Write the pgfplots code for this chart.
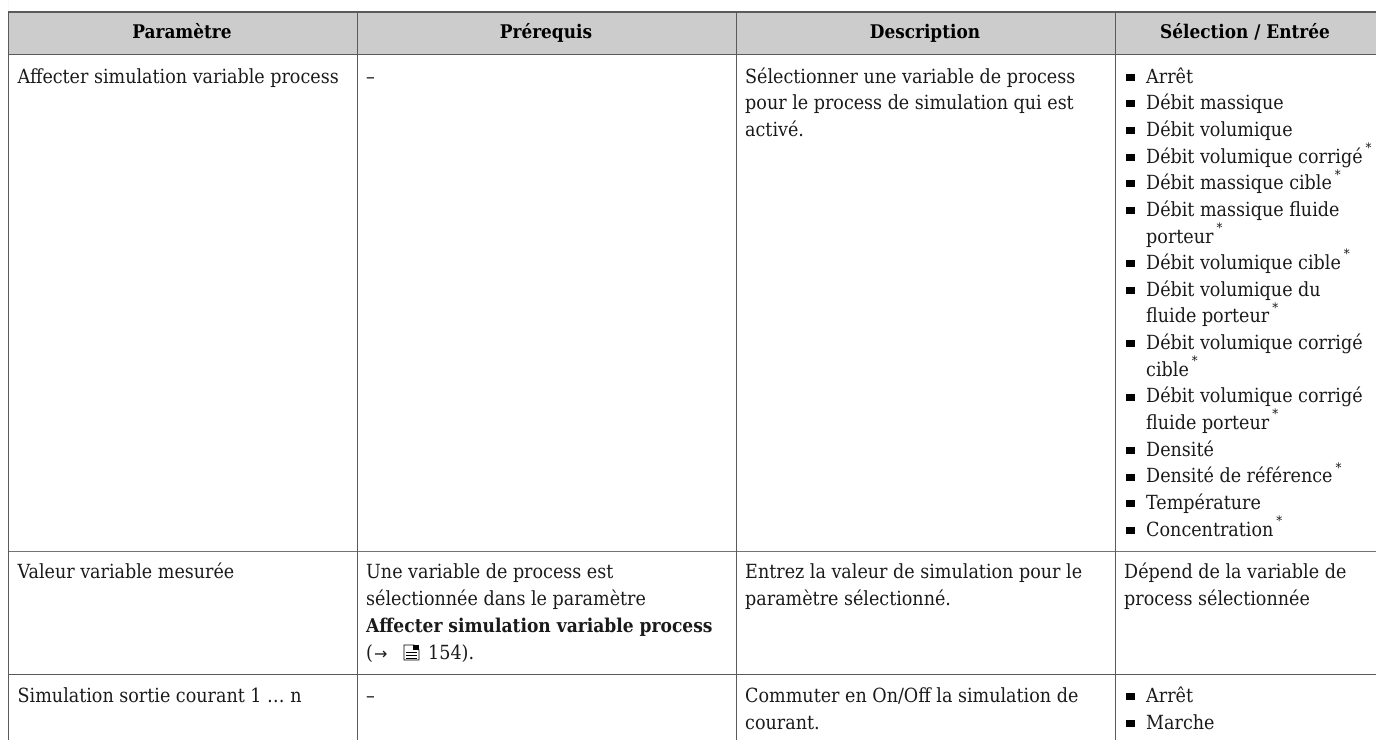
\documentclass[border=0pt]{standalone}
\usepackage{fontspec}
\usepackage{pgfplots}
\pgfplotsset{compat=1.18}
\setmainfont{DejaVu Serif Condensed}
\newfontfamily\arrowfont{DejaVu Sans}
\definecolor{hdr}{HTML}{CCCCCC}
\definecolor{rule}{HTML}{5A5A5A}
\definecolor{txt}{HTML}{1A1A1A}
\newcommand\TX[3]{\node[anchor=base west,inner sep=0pt,text=txt] at (axis cs:#1,#2) {#3};}
\newcommand\HD[3]{\node[anchor=base,inner sep=0pt,text=black] at (axis cs:#1,#2) {\fontsize{18.8}{22}\selectfont\bfseries #3};}
\newcommand\AS{\hspace{3pt}\raisebox{10.5pt}{\fontsize{13}{13}\selectfont *}}
\begin{document}
\begin{tikzpicture}[x=1pt,y=1pt]
\useasboundingbox (0,0) rectangle (1376,740);
\fontsize{19.5}{23}\selectfont
\begin{axis}[at={(0,0)},anchor=south west,scale only axis,width=1376pt,height=740pt,
  xmin=0,xmax=1376,ymin=0,ymax=740,y dir=reverse,hide axis,clip=true]
\addplot[draw=none,fill=hdr] coordinates {(8.5,12) (1376,12) (1376,54.5) (8.5,54.5)} \closedcycle;
% horizontal rules
\addplot[rule,line width=1.3pt] coordinates {(8,12) (1376,12)};
\addplot[rule,line width=1.3pt] coordinates {(8,54.5) (1376,54.5)};
\addplot[rule!85!white,line width=1.5pt] coordinates {(8,551.5) (1376,551.5)};
\addplot[rule,line width=1.2pt] coordinates {(8,674.7) (1376,674.7)};
% vertical rules
\addplot[rule,line width=1pt] coordinates {(8.5,12) (8.5,740)};
\addplot[rule,line width=1pt] coordinates {(357,12) (357,740)};
\addplot[rule,line width=1pt] coordinates {(736,12) (736,740)};
\addplot[rule,line width=1pt] coordinates {(1115,12) (1115,740)};
% bullets
\addplot[only marks,mark=square*,mark size=3pt,mark options={black,xscale=1.3}] coordinates {
(1130,77) (1130,103.6) (1130,130.3) (1130,157) (1130,183.6) (1130,210.2)
(1130,263) (1130,290) (1130,343) (1130,396.7) (1130,450) (1130,476.7) (1130,503) (1130,530)
(1130,696) (1130,723)};
\HD{182}{38}{Paramètre}
\HD{546}{38}{Prérequis}
\HD{925}{38}{Description}
\HD{1245}{38}{Sélection / Entrée}
\TX{17.5}{83}{Affecter simulation variable process}
\TX{366}{83}{–}
\TX{745}{83}{Sélectionner une variable de process}
\TX{745}{109.6}{pour le process de simulation qui est}
\TX{745}{136.3}{activé.}
\TX{1146}{83}{Arrêt}
\TX{1146}{109.6}{Débit massique}
\TX{1146}{136.3}{Débit volumique}
\TX{1146}{163}{Débit volumique corrigé\AS}
\TX{1146}{189.6}{Débit massique cible\AS}
\TX{1146}{216.2}{Débit massique fluide}
\TX{1146}{243}{porteur\AS}
\TX{1146}{269}{Débit volumique cible\AS}
\TX{1146}{296}{Débit volumique du}
\TX{1146}{322.5}{fluide porteur\AS}
\TX{1146}{349}{Débit volumique corrigé}
\TX{1146}{376}{cible\AS}
\TX{1146}{402.7}{Débit volumique corrigé}
\TX{1146}{429}{fluide porteur\AS}
\TX{1146}{456}{Densité}
\TX{1146}{482.7}{Densité de référence\AS}
\TX{1146}{509}{Température}
\TX{1146}{536}{Concentration\AS}
\TX{17.5}{578}{Valeur variable mesurée}
\TX{366}{578}{Une variable de process est}
\TX{366}{605}{sélectionnée dans le paramètre}
\TX{366}{632}{\fontsize{19}{23}\selectfont\bfseries Affecter simulation variable process}
\TX{366}{659}{(}
\TX{374}{659}{\arrowfont\fontsize{16}{16}\selectfont →}
\TX{428}{659}{154).}
\TX{745}{578}{Entrez la valeur de simulation pour le}
\TX{745}{605}{paramètre sélectionné.}
\TX{1124}{578}{Dépend de la variable de}
\TX{1124}{605}{process sélectionnée}
\TX{17.5}{702}{Simulation sortie courant 1 … n}
\TX{366}{702}{–}
\TX{745}{702}{Commuter en On/Off la simulation de}
\TX{745}{729}{courant.}
\TX{1146}{702}{Arrêt}
\TX{1146}{729}{Marche}
% document icon
\draw[black,line width=0.9pt] (axis cs:404,645) -- (axis cs:414,645) -- (axis cs:419,650) -- (axis cs:419,660) -- (axis cs:404,660) -- cycle;
\fill[black] (axis cs:413,645) -- (axis cs:419,645) -- (axis cs:419,650) -- (axis cs:413,650) -- cycle;
\draw[black,line width=0.8pt] (axis cs:406,652) -- (axis cs:417,652) (axis cs:406,655) -- (axis cs:417,655) (axis cs:406,658) -- (axis cs:417,658);
\end{axis}
\end{tikzpicture}
\end{document}
